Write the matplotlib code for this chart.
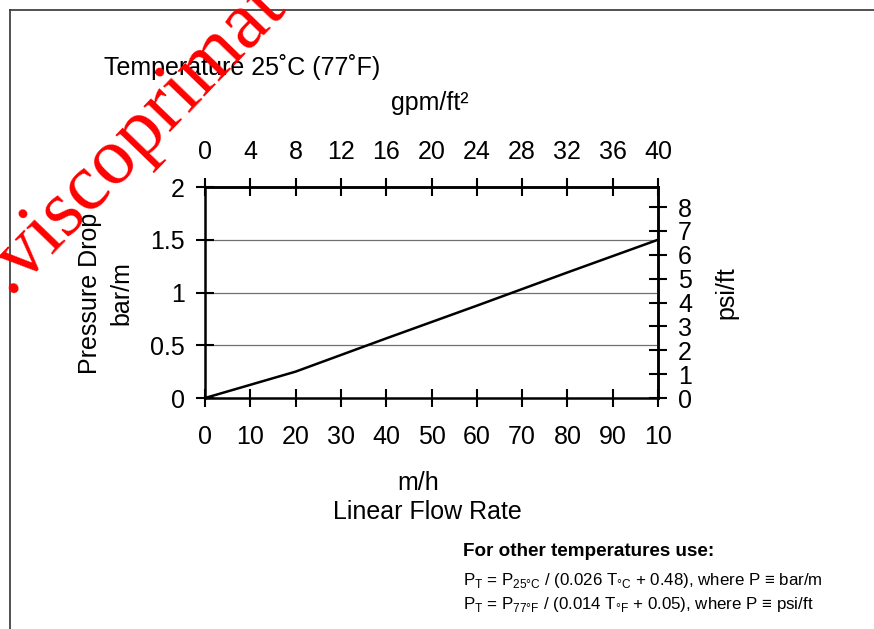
import matplotlib
matplotlib.use("Agg")
import matplotlib.pyplot as plt
from matplotlib.lines import Line2D

plt.rcParams['font.family'] = ['Liberation Sans', 'DejaVu Sans']

# pressure drop vs linear flow rate at 25 C
flow_mh = [0, 20, 40, 60, 80, 100]
drop_barm = [0, 0.25, 0.565, 0.875, 1.19, 1.5]

x_ticks = [0, 10, 20, 30, 40, 50, 60, 70, 80, 90, 100]
x_labels = ['0', '10', '20', '30', '40', '50', '60', '70', '80', '90', '10']
top_ticks = [0, 4, 8, 12, 16, 20, 24, 28, 32, 36, 40]
y_ticks = [0, 0.5, 1, 1.5, 2]
y_labels = ['0', '0.5', '1', '1.5', '2']
psi_ticks = [0, 1, 2, 3, 4, 5, 6, 7, 8]

W, H = 874, 629
fig = plt.figure(figsize=(W / 100, H / 100), dpi=100)
ax = fig.add_axes([205 / W, 1 - 398 / H, 453 / W, 211 / H])

ax.plot(flow_mh, drop_barm, color='black', lw=1.8, clip_on=False, zorder=3)
ax.set_xlim(0, 100)
ax.set_ylim(0, 2)
for v in [0.5, 1, 1.5]:
    ax.axhline(v, color='#707070', lw=0.9, zorder=1)

ax.set_xticks(x_ticks)
ax.set_xticklabels(x_labels)
ax.set_yticks(y_ticks)
ax.set_yticklabels(y_labels)
ax.tick_params(direction='inout', length=13, width=1.5, labelsize=18, pad=8)
ax.tick_params(axis='x', pad=13)
for s in ax.spines.values():
    s.set_linewidth(1.8)

top = ax.secondary_xaxis('top', functions=(lambda x: x * 0.4, lambda x: x / 0.4))
top.set_xticks(top_ticks)
top.tick_params(direction='inout', length=13, width=1.5, labelsize=18, pad=10)
top.spines['top'].set_linewidth(1.8)

right = ax.secondary_yaxis('right', functions=(lambda y: y * 4.42, lambda y: y / 4.42))
right.set_yticks(psi_ticks)
right.tick_params(direction='inout', length=13, width=1.5, labelsize=18, pad=8)
right.spines['right'].set_linewidth(1.8)

def fx(px):
    return px / W

def fy(py):
    return 1 - py / H

fig.text(fx(104), fy(67), 'Temperature 25˚C (77˚F)', fontsize=18, ha='left', va='center')
fig.text(fx(430), fy(103), 'gpm/ft²', fontsize=18, ha='center', va='center')
fig.text(fx(90), fy(293), 'Pressure Drop', fontsize=18, rotation=90, ha='center', va='center')
fig.text(fx(121), fy(293), 'bar/m', fontsize=18, rotation=90, ha='center', va='center')
fig.text(fx(726), fy(293), 'psi/ft', fontsize=18, rotation=90, ha='center', va='center')
fig.text(fx(418), fy(483), 'm/h', fontsize=18, ha='center', va='center')
fig.text(fx(427), fy(512), 'Linear Flow Rate', fontsize=18, ha='center', va='center')

fig.text(fx(463), fy(551), 'For other temperatures use:', fontsize=13.6, fontweight='bold',
         ha='left', va='center')
fig.text(fx(463), fy(580), r'P$_\mathregular{T}$ = P$_\mathregular{25°C}$ / (0.026 T$_\mathregular{°C}$ + 0.48), where P ≡ bar/m',
         fontsize=12.2, ha='left', va='center')
fig.text(fx(463), fy(604), r'P$_\mathregular{T}$ = P$_\mathregular{77°F}$ / (0.014 T$_\mathregular{°F}$ + 0.05), where P ≡ psi/ft',
         fontsize=12.2, ha='left', va='center')

# page frame
fig.add_artist(Line2D([fx(10), fx(10)], [fy(10), 0], color='#333333', lw=1.2))
fig.add_artist(Line2D([fx(10), 1], [fy(10), fy(10)], color='#333333', lw=1.2))

# watermark
fig.text(fx(9), fy(294), '.viscoprimat', fontsize=58, color='red', rotation=46,
         rotation_mode='anchor', family='Liberation Serif', ha='left', va='baseline', zorder=5)

fig.savefig('out.png', dpi=100)
